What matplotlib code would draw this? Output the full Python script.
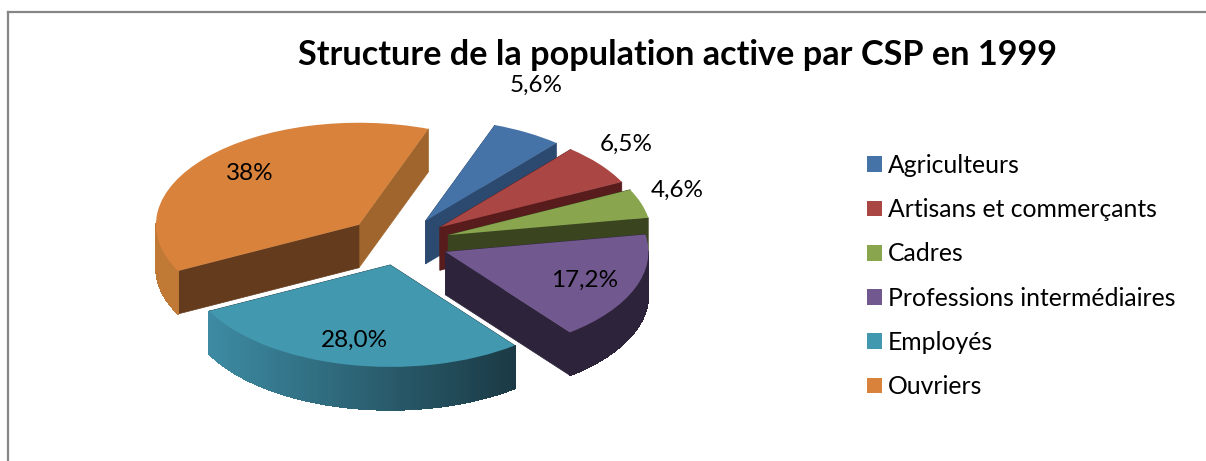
import numpy as np
import matplotlib
matplotlib.use("Agg")
import matplotlib.pyplot as plt
from matplotlib.colors import to_rgb
from matplotlib.patches import Polygon

plt.rcParams['font.family'] = ['Lato', 'DejaVu Sans']

title = "Structure de la population active par CSP en 1999"
categories = ["Agriculteurs", "Artisans et commerçants", "Cadres",
              "Professions intermédiaires", "Employés", "Ouvriers"]
values = [5.6, 6.5, 4.6, 17.2, 28.0, 38.0]
value_labels = ["5,6%", "6,5%", "4,6%", "17,2%", "28,0%", "38%"]

# colours of the top face, the two cut faces and the rim (left end, right end)
top_colors = ["#4572A7", "#AA4643", "#89A54E", "#71588F", "#4198AF", "#D8823C"]
cut1_colors = ["#2C4A70", "#581C1C", "#3A4520", "#2D233A", "#1B3A45", "#A0652C"]
cut2_colors = ["#2C4A70", "#581C1C", "#3A4520", "#2D233A", "#1B3A45", "#643B1C"]
rim_left = ["#4C6D94", "#6A2626", "#3A4520", "#2D233A", "#3D8BA3", "#C07A36"]
rim_right = ["#4C6D94", "#6A2626", "#3A4520", "#2D233A", "#1B3A45", "#C07A36"]

# layout in pixels of the 1206x461 picture
W, H = 1206, 461
cx, cy = 400, 243   # pie centre
rx, ry = 203, 102   # pie radius seen from above
depth = 43 / ry     # thickness of the slices
frame_x, frame_y = 8, 12
explode = [0.25, 0.25, 0.25, 0.24, 0.22, 0.27]
label_pos = [(536, 85), (626, 144), (677, 190), (585, 280), (354, 340), (250, 174)]
draw_order = [0, 1, 2, 3, 5, 4]


def px(x, y):
    # picture pixels to data coordinates
    return (x - cx) / rx, (cy - y) / ry


fig = plt.figure(figsize=(W / 100, H / 100), dpi=100)
ax = fig.add_axes([frame_x / W, 0, 1 - frame_x / W, 1 - frame_y / H])

wedges, _ = ax.pie(values, explode=explode, startangle=70, counterclock=False,
                   colors=top_colors, radius=1, frame=True)

# pie forces a round shape, the flat look comes from the axis scales
ax.set_aspect('auto')
ax.set_xlim(px(frame_x, 0)[0], px(W, 0)[0])
ax.set_ylim(px(0, H)[1], px(0, frame_y)[1])
ax.set_xticks([])
ax.set_yticks([])
ax.spines[['right', 'bottom']].set_visible(False)
for side in ['left', 'top']:
    ax.spines[side].set_color('#868686')
    ax.spines[side].set_linewidth(1.6)


def rim_point(w, deg):
    return (w.center[0] + np.cos(np.radians(deg)), w.center[1] + np.sin(np.radians(deg)))


# sides of every slice are built from the wedge the pie gave back
z = 2
for i in draw_order:
    w = wedges[i]
    tip = w.center
    # the two cut faces
    for deg, col in [(w.theta1, cut1_colors[i]), (w.theta2, cut2_colors[i])]:
        p = rim_point(w, deg)
        ax.add_patch(Polygon([tip, p, (p[0], p[1] - depth), (tip[0], tip[1] - depth)],
                             facecolor=col, edgecolor=col, linewidth=0.5, zorder=z))
    z += 1
    # the rim, only the part that looks at the viewer
    thetas = np.linspace(w.theta1, w.theta2, 121)
    c0, c1 = np.array(to_rgb(rim_left[i])), np.array(to_rgb(rim_right[i]))
    x0 = w.center[0] + np.cos(np.radians(thetas)).min()
    x1 = w.center[0] + np.cos(np.radians(thetas)).max()
    for a, b in zip(thetas[:-1], thetas[1:]):
        if np.sin(np.radians((a + b) / 2)) > 0:
            continue
        pa, pb = rim_point(w, a), rim_point(w, b)
        f = ((pa[0] + pb[0]) / 2 - x0) / (x1 - x0)
        col = c0 + (c1 - c0) * f
        # no antialiasing here or the seams between the quads show as stripes
        ax.add_patch(Polygon([pa, pb, (pb[0], pb[1] - depth), (pa[0], pa[1] - depth)],
                             facecolor=col, edgecolor=col, linewidth=0.5, zorder=z,
                             antialiased=False))
    z += 1
    w.set_zorder(z)
    z += 1

# value labels
for lab, pos in zip(value_labels, label_pos):
    ax.text(*px(*pos), lab, ha='center', va='center', fontsize=17.5, color='black', zorder=50)

fig.text(677 / W, 1 - 55 / H, title, ha='center', va='center', fontsize=24.7,
         fontweight='bold', color='black')

ax.legend(wedges, categories, loc='center left',
          bbox_to_anchor=(867 / W, 1 - 276 / H), bbox_transform=fig.transFigure,
          frameon=False, fontsize=17.8, handlelength=0.6, handleheight=0.6,
          handletextpad=0.24, labelspacing=0.86, borderpad=0, borderaxespad=0)

fig.savefig("out.png", dpi=100)
